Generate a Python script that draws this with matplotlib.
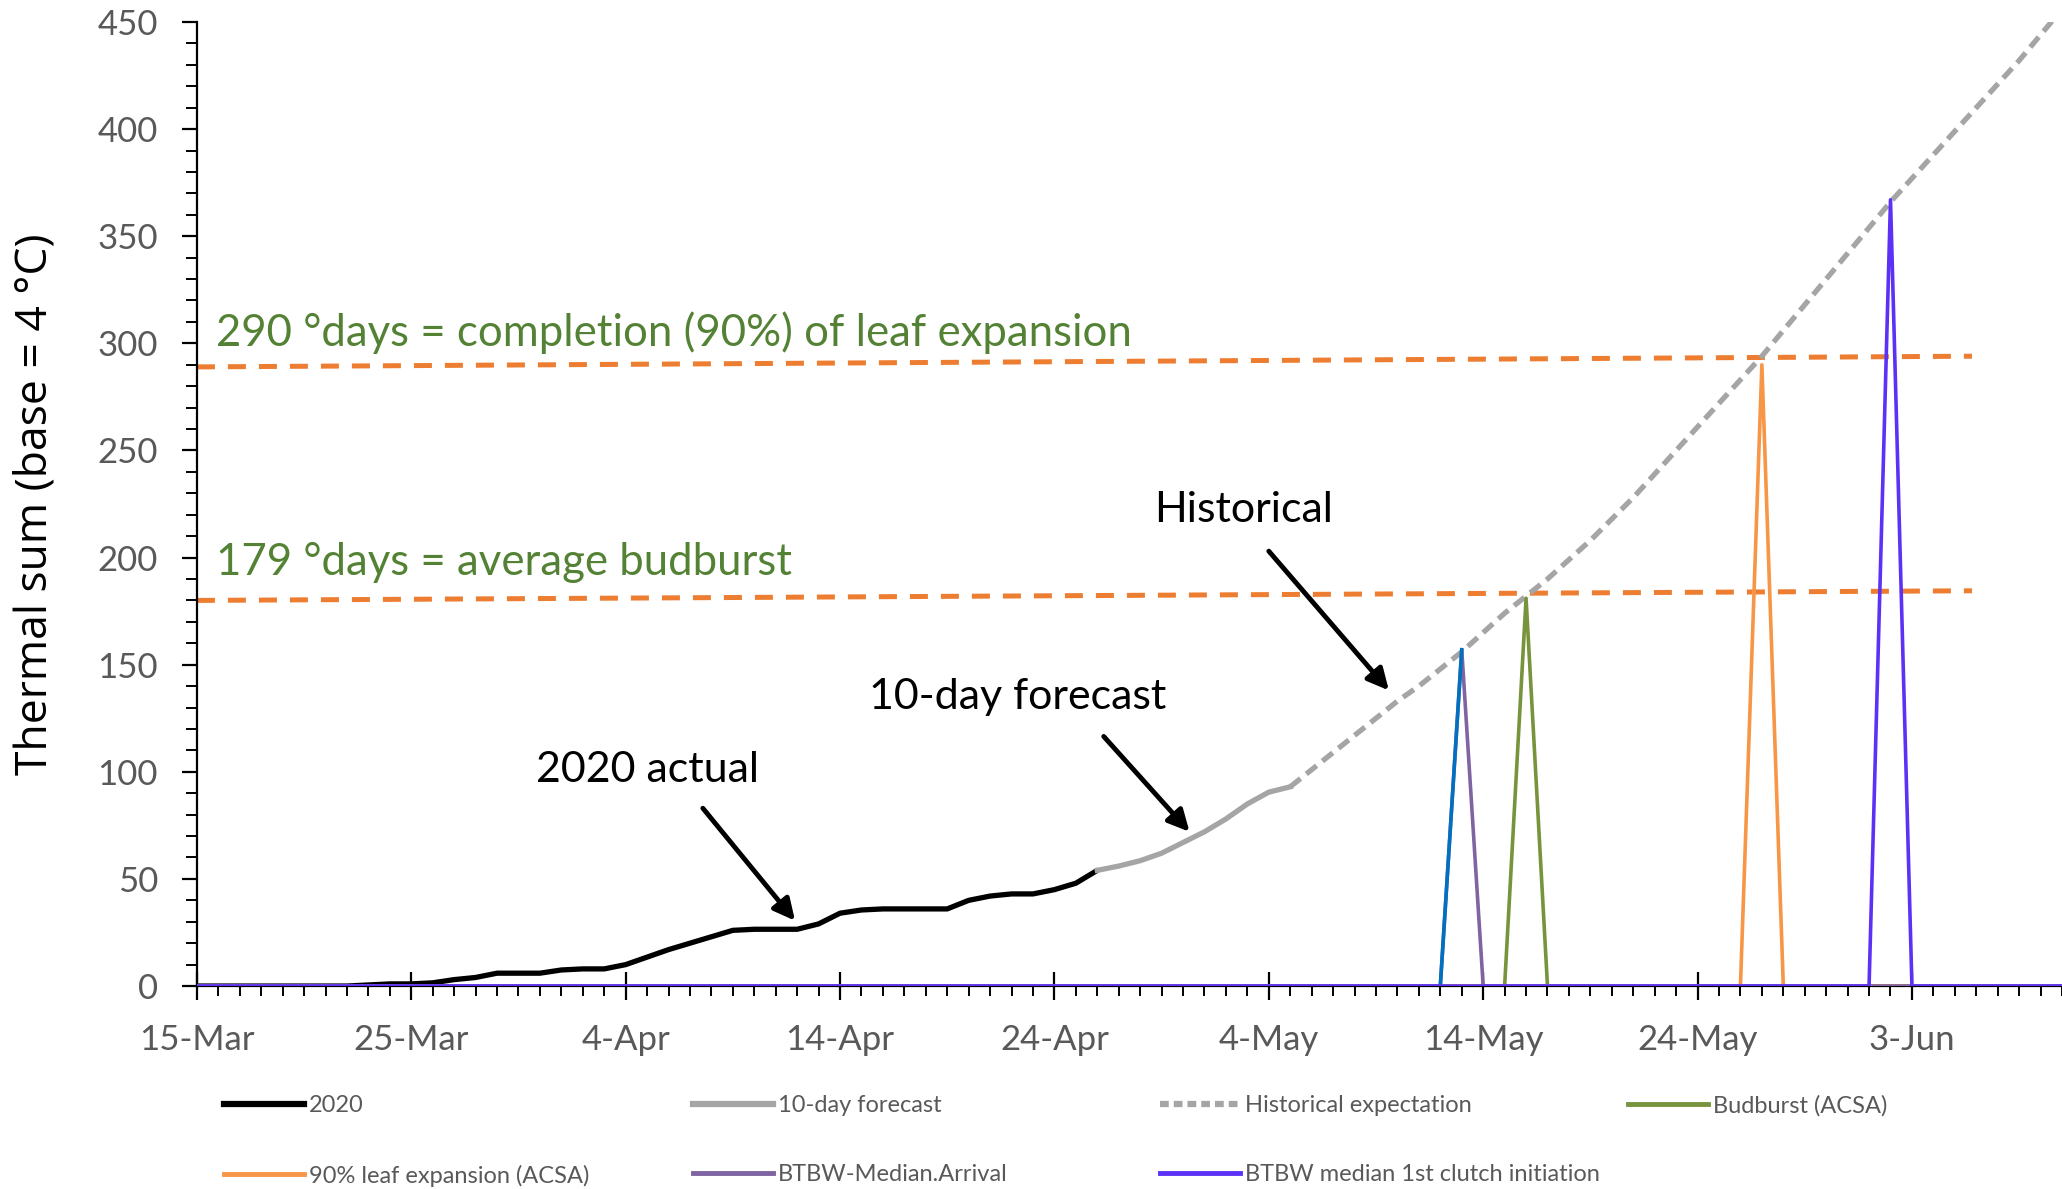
import matplotlib
matplotlib.use("Agg")
import matplotlib.pyplot as plt
from matplotlib.lines import Line2D
import numpy as np
import pandas as pd

plt.rcParams["font.family"] = ["Lato", "DejaVu Sans"]

# day 0 = 15 March 2020
START = pd.Timestamp("2020-03-15")
N_DAYS = 88

# 2020 observed thermal sum, days 0..42
actual_2020 = [0, 0, 0, 0, 0, 0, 0, 0, 0.5, 1, 1, 1.5, 3, 4, 6, 6, 6, 7.5, 8, 8,
               10, 13.5, 17, 20, 23, 26, 26.5, 26.5, 26.5, 29, 34, 35.5, 36, 36,
               36, 36, 40, 42, 43, 43, 45, 48, 54]
# 10-day forecast, days 42..51
forecast = [54, 56, 58.5, 62, 67, 72, 78, 85, 90.5, 93]
# historical expectation, days 51..87
historical = [93, 101, 109, 117, 125, 133, 140, 148, 156, 165, 174, 182, 190,
              199, 208, 218, 228, 239, 250, 261, 272, 283, 294, 306, 318, 330,
              342, 354, 366, 377, 388, 399, 410, 421, 432, 444, 456]

# event spikes (day index, thermal sum)
budburst = (62, 181)
leaf90 = (73, 290)
arrival = (59, 157)
clutch = (79, 367)

# reference thresholds drawn across the chart (start / end day, value at each end)
thr_x = [0, 82.8]
thr_290 = [289, 294]
thr_179 = [180, 184.5]

tick_days = list(range(0, 81, 10))
tick_labels = [f"{(START + pd.Timedelta(days=d)).day}-{(START + pd.Timedelta(days=d)).strftime('%b')}"
               for d in tick_days]

days = np.arange(N_DAYS)


def spike(ev):
    s = np.zeros(N_DAYS)
    s[ev[0]] = ev[1]
    return s


C_ACT = "black"
C_GRAY = "#A5A5A5"
C_GREEN = "#77933C"
C_ORANGE = "#F79646"
C_PURPLE = "#8064A2"
C_VIOLET = "#5B32F5"
C_BLUE = "#0070C0"
C_THR = "#ED7D31"
C_TXT = "#548235"
C_TICK = "#595959"

fig = plt.figure(figsize=(20.62, 11.89), dpi=100)
ax = fig.add_axes([0.0955, 0.1707, 0.9045, 0.8108])

ax.plot(thr_x, thr_290, color=C_THR, lw=3.6, dashes=(3.6, 2.6), zorder=2)
ax.plot(thr_x, thr_179, color=C_THR, lw=3.6, dashes=(3.6, 2.6), zorder=2)

ax.plot(days[:len(actual_2020)], actual_2020, color=C_ACT, lw=3.8, zorder=4,
        solid_capstyle="round")
ax.plot(days[42:42 + len(forecast)], forecast, color=C_GRAY, lw=3.8, zorder=4)
ax.plot(days[51:51 + len(historical)], historical, color=C_GRAY, lw=3.8,
        dashes=(2.5, 1.4), zorder=4)

ax.plot(days, spike(budburst), color=C_GREEN, lw=2.6, zorder=5)
ax.plot(days, spike(leaf90), color=C_ORANGE, lw=2.6, zorder=5)
ax.plot(days, spike(arrival), color=C_PURPLE, lw=2.6, zorder=5)
ax.plot(days[arrival[0] - 1:arrival[0] + 1], spike(arrival)[arrival[0] - 1:arrival[0] + 1],
        color=C_BLUE, lw=2.6, zorder=6)
ax.plot(days, spike(clutch), color=C_VIOLET, lw=2.6, zorder=7)

ax.set_xlim(0, 87)
ax.set_ylim(0, 450)
for s in ("top", "right"):
    ax.spines[s].set_visible(False)
for s in ("left", "bottom"):
    ax.spines[s].set_linewidth(1.6)

ax.set_xticks(tick_days)
ax.set_xticklabels(tick_labels)
ax.set_xticks(days, minor=True)
ax.set_yticks(range(0, 451, 50))
ax.set_yticks(range(0, 451, 10), minor=True)
ax.tick_params(axis="x", which="major", direction="inout", length=20, width=1.6,
               labelsize=25, labelcolor=C_TICK, pad=17)
ax.tick_params(axis="x", which="minor", direction="out", length=7, width=1.4)
ax.tick_params(axis="y", which="major", direction="out", length=11, width=1.6,
               labelsize=25, labelcolor=C_TICK, pad=17)
ax.tick_params(axis="y", which="minor", direction="out", length=8, width=1.4)

ax.set_ylabel("Thermal sum (base = 4 °C)", fontsize=32, family=["Open Sans", "DejaVu Sans"])
ax.yaxis.set_label_coords(-0.075, 0.5)

ax.text(0.9, 305, "290 °days = completion (90%) of leaf expansion", color=C_TXT,
        fontsize=31.5, va="center", ha="left")
ax.text(0.9, 197.5, "179 °days = average budburst", color=C_TXT,
        fontsize=31.5, va="center", ha="left")

arrow = dict(arrowstyle="-|>", lw=3.5, color="black", mutation_scale=32,
             shrinkA=0, shrinkB=0)
ax.text(48.8, 222, "Historical", fontsize=31, ha="center", va="center")
ax.annotate("", xy=(55.6, 138), xytext=(50.0, 203), arrowprops=arrow)
ax.text(38.3, 135, "10-day forecast", fontsize=31, ha="center", va="center")
ax.annotate("", xy=(46.3, 72), xytext=(42.3, 116.5), arrowprops=arrow)
ax.text(21, 101, "2020 actual", fontsize=31, ha="center", va="center")
ax.annotate("", xy=(27.9, 30.5), xytext=(23.6, 83), arrowprops=arrow)

# legend, laid out column by column like the original
columns = [
    [("2020", dict(color=C_ACT, lw=4.5)),
     ("90% leaf expansion (ACSA)", dict(color=C_ORANGE, lw=3.5))],
    [("10-day forecast", dict(color=C_GRAY, lw=4.5)),
     ("BTBW-Median.Arrival", dict(color=C_PURPLE, lw=3.5))],
    [("Historical expectation", dict(color=C_GRAY, lw=4.5, dashes=(1.4, 0.8))),
     ("BTBW median 1st clutch initiation", dict(color=C_VIOLET, lw=3.5))],
    [("Budburst (ACSA)", dict(color=C_GREEN, lw=3.5))],
]
col_x = [0.1086, 0.3361, 0.5626, 0.7895]
for cx, col in zip(col_x, columns):
    handles = [Line2D([], [], **kw) for _, kw in col]
    labels = [lab for lab, _ in col]
    leg = fig.legend(handles, labels, loc="upper left", bbox_to_anchor=(cx, 0.079),
                     frameon=False, fontsize=17, handlelength=3.4, handletextpad=0.2,
                     labelspacing=2.05, borderpad=0, borderaxespad=0)
    for t in leg.get_texts():
        t.set_color(C_TICK)

fig.savefig("out.png", dpi=100)
